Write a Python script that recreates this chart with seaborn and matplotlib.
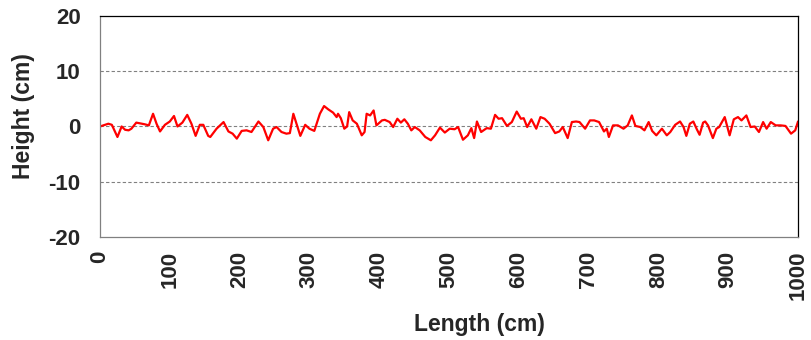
import matplotlib
matplotlib.use("Agg")
import matplotlib.pyplot as plt
import seaborn as sns

# profile data (length in cm, height in cm)
length = [0, 12, 17, 25, 31, 36, 41, 45, 52, 64, 70, 76, 81, 86, 93, 100, 106, 111, 118, 125,
          131, 137, 143, 148, 155, 158, 167, 177, 184, 190, 196, 203, 210, 217, 227, 234, 241,
          248, 253, 260, 267, 272, 277, 282, 287, 294, 300, 307, 315, 321, 327, 334, 339, 341,
          345, 350, 354, 357, 362, 368, 375, 379, 382, 387, 392, 396, 404, 408, 415, 420, 426,
          431, 436, 441, 446, 451, 458, 466, 474, 480, 487, 494, 501, 508, 513, 520, 527, 532,
          536, 540, 546, 554, 560, 566, 571, 576, 583, 590, 597, 603, 607, 612, 618, 625, 631,
          637, 644, 652, 658, 663, 670, 676, 682, 687, 695, 702, 708, 715, 722, 726, 729, 735,
          742, 750, 756, 762, 767, 774, 780, 786, 791, 797, 805, 812, 817, 824, 831, 836, 840,
          845, 850, 855, 859, 864, 867, 871, 878, 883, 887, 895, 902, 908, 914, 919, 926, 932,
          938, 944, 950, 955, 961, 968, 975, 982, 990, 996, 1000]
height = [0.0, 0.5, 0.3, -1.9, 0.0, -0.6, -0.7, -0.4, 0.7, 0.4, 0.2, 2.3, 0.5, -0.9, 0.3, 0.9,
          1.9, 0.0, 0.7, 2.1, 0.5, -1.7, 0.3, 0.3, -1.7, -1.9, -0.4, 0.8, -0.9, -1.3, -2.2, -0.8,
          -0.7, -1.0, 0.9, -0.1, -2.5, -0.4, -0.1, -1.0, -1.3, -1.2, 2.3, 0.3, -1.7, 0.3, -0.4,
          -0.8, 2.3, 3.7, 3.1, 2.5, 1.7, 2.3, 1.5, -0.4, 0.0, 2.6, 1.1, 0.5, -1.6, -1.0, 2.3, 2.0,
          2.9, 0.2, 1.1, 1.2, 0.8, -0.1, 1.4, 0.7, 1.3, 0.5, -0.7, -0.1, -0.7, -1.9, -2.5, -1.6,
          -0.2, -1.1, -0.4, -0.5, -0.1, -2.4, -1.6, -0.3, -2.1, 0.9, -1.0, -0.3, -0.4, 2.1, 1.4,
          1.5, 0.1, 0.8, 2.7, 1.4, 1.5, -0.1, 1.3, -0.4, 1.7, 1.4, 0.5, -1.2, -0.9, -0.1, -2.1,
          0.8, 0.9, 0.8, -0.4, 1.1, 1.1, 0.8, -0.9, -0.4, -1.9, 0.2, 0.2, -0.4, 0.2, 2.0, 0.1,
          -0.1, -0.7, 0.8, -0.8, -1.6, -0.4, -1.6, -1.0, 0.3, 0.9, -0.1, -1.7, 0.5, 0.9, -0.5,
          -1.5, 0.7, 0.9, 0.2, -2.1, -0.4, -0.1, 1.7, -1.6, 1.3, 1.7, 1.1, 2.0, -0.1, 0.0, -1.0,
          0.8, -0.4, 0.8, 0.2, 0.2, 0.1, -1.3, -0.7, 0.9]

x_ticks = [0, 100, 200, 300, 400, 500, 600, 700, 800, 900, 1000]
y_ticks = [-20, -10, 0, 10, 20]

sns.set_style("white")
plt.rcParams["font.family"] = ["Liberation Sans", "DejaVu Sans"]
plt.rcParams["font.weight"] = "bold"

fig = plt.figure(figsize=(8.11, 3.40), dpi=100)
ax = fig.add_axes([0.1233, 0.303, 0.8607, 0.650])

# dashed gridlines like the excel original
for yv in [-10, 0, 10]:
    ax.axhline(yv, color="#808080", linestyle=(0, (3, 2)), linewidth=0.8, zorder=0)

sns.lineplot(x=length, y=height, ax=ax, color="#ff0000", linewidth=1.6,
             estimator=None, sort=False)

ax.set_xlim(0, 1000)
ax.set_ylim(-20, 20)
ax.set_xticks(x_ticks)
ax.set_yticks(y_ticks)
ax.set_xticklabels([str(t) for t in x_ticks], rotation=90, fontsize=16, fontweight="bold")
ax.set_yticklabels([str(t) for t in y_ticks], fontsize=16, fontweight="bold")
ax.tick_params(axis="both", direction="inout", length=8, width=0.8, color="#808080")
ax.tick_params(axis="x", pad=6)
ax.tick_params(axis="y", pad=10)

ax.set_xlabel("Length (cm)", fontsize=16.5, fontweight="bold")
ax.set_ylabel("Height (cm)", fontsize=16.5, fontweight="bold")
# the excel labels sit a little off-centre
ax.xaxis.set_label_coords(0.544, -0.344)
ax.yaxis.set_label_coords(-0.093, 0.548)

ax.spines["left"].set_color("#808080")
ax.spines["bottom"].set_color("#808080")
ax.spines["top"].set_color("black")
ax.spines["right"].set_color("black")
for s in ax.spines.values():
    s.set_linewidth(0.9)

fig.savefig("out.png", dpi=100)
